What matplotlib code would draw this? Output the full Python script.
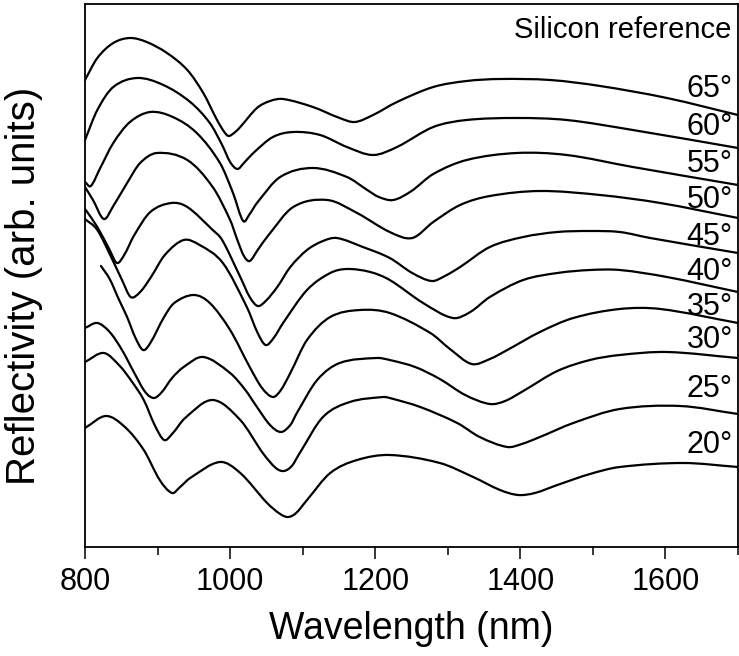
import numpy as np
import matplotlib
matplotlib.use("Agg")
import matplotlib.pyplot as plt
from matplotlib.path import Path
from matplotlib.patches import PathPatch
from matplotlib.ticker import MultipleLocator

# reflectance spectra of the silicon reference, one trace per incidence angle
wl_65 = [800, 817, 839, 862, 885, 913, 941, 963, 982, 992, 998, 1007, 1014, 1037, 1055, 1073,
         1114, 1151, 1172, 1197, 1230, 1280, 1326, 1372, 1441, 1510, 1602, 1700]
r_65 = [4.67, 4.89, 5.04, 5.09, 5.05, 4.94, 4.77, 4.54, 4.27, 4.15, 4.11, 4.15, 4.20, 4.39, 4.46, 4.48,
        4.40, 4.29, 4.25, 4.32, 4.45, 4.60, 4.66, 4.68, 4.67, 4.61, 4.49, 4.32]

wl_60 = [800, 817, 839, 872, 908, 945, 972, 989, 1000, 1010, 1019, 1032, 1059, 1087, 1124, 1161,
         1197, 1230, 1280, 1326, 1395, 1464, 1555, 1700]
r_60 = [4.07, 4.37, 4.60, 4.69, 4.62, 4.45, 4.24, 4.02, 3.85, 3.78, 3.84, 3.94, 4.10, 4.15, 4.12, 4.00,
        3.92, 4.00, 4.20, 4.27, 4.29, 4.27, 4.17, 3.99]

wl_55 = [800, 808, 821, 839, 862, 890, 921, 954, 986, 1004, 1018, 1027, 1037, 1069, 1114, 1161,
         1189, 1205, 1225, 1250, 1280, 1326, 1395, 1464, 1555, 1700]
r_55 = [3.65, 3.61, 3.79, 4.04, 4.25, 4.35, 4.30, 4.14, 3.84, 3.54, 3.26, 3.33, 3.44, 3.70, 3.79, 3.70,
        3.57, 3.50, 3.47, 3.56, 3.73, 3.87, 3.94, 3.92, 3.80, 3.62]

wl_50 = [800, 811, 826, 839, 858, 876, 899, 941, 976, 1000, 1010, 1019, 1027, 1038, 1052, 1087,
         1134, 1175, 1220, 1251, 1280, 1317, 1358, 1427, 1510, 1593, 1700]
r_50 = [3.60, 3.47, 3.28, 3.41, 3.64, 3.84, 3.94, 3.87, 3.60, 3.27, 3.07, 2.91, 2.86, 2.97, 3.11, 3.40,
        3.47, 3.34, 3.15, 3.09, 3.25, 3.42, 3.51, 3.56, 3.52, 3.44, 3.29]

wl_45 = [800, 817, 834, 844, 854, 868, 890, 919, 941, 976, 989, 1014, 1027, 1038, 1049, 1065, 1083,
         1106, 1128, 1147, 1183, 1220, 1251, 1278, 1296, 1317, 1358, 1404, 1451, 1496, 1537, 1579, 1700]
r_45 = [3.38, 3.20, 2.97, 2.84, 2.92, 3.12, 3.35, 3.44, 3.40, 3.17, 3.07, 2.70, 2.50, 2.41, 2.46, 2.60, 2.80,
        2.97, 3.06, 3.09, 3.00, 2.89, 2.74, 2.66, 2.71, 2.80, 3.00, 3.10, 3.15, 3.16, 3.15, 3.09, 2.94]

wl_40 = [800, 817, 836, 851, 863, 876, 891, 910, 936, 958, 990, 1023, 1038, 1049, 1060, 1073, 1106,
         1138, 1161, 1193, 1220, 1266, 1307, 1331, 1358, 1404, 1451, 1496, 1537, 1602, 1700]
r_40 = [3.28, 3.17, 2.90, 2.67, 2.50, 2.55, 2.70, 2.92, 3.07, 3.02, 2.84, 2.40, 2.14, 2.02, 2.09, 2.24, 2.57,
        2.74, 2.78, 2.75, 2.67, 2.44, 2.29, 2.35, 2.50, 2.67, 2.74, 2.77, 2.77, 2.70, 2.55]

wl_35 = [822, 834, 847, 858, 869, 880, 890, 909, 923, 950, 972, 1000, 1027, 1044, 1059, 1070, 1083,
         1106, 1138, 1179, 1220, 1276, 1303, 1333, 1358, 1382, 1427, 1473, 1537, 1593, 1700]
r_35 = [2.81, 2.68, 2.47, 2.30, 2.10, 1.97, 2.04, 2.30, 2.44, 2.52, 2.44, 2.17, 1.80, 1.59, 1.50, 1.57, 1.74,
        2.07, 2.30, 2.37, 2.34, 2.14, 1.98, 1.83, 1.88, 1.97, 2.15, 2.29, 2.38, 2.38, 2.24]

wl_30 = [800, 817, 834, 851, 868, 883, 895, 906, 920, 936, 963, 1000, 1021, 1037, 1055, 1070, 1083,
         1092, 1120, 1151, 1202, 1220, 1255, 1289, 1324, 1358, 1379, 1404, 1451, 1496, 1537, 1602, 1700]
r_30 = [2.19, 2.24, 2.15, 1.97, 1.74, 1.55, 1.49, 1.55, 1.69, 1.80, 1.90, 1.74, 1.57, 1.40, 1.22, 1.15, 1.22,
        1.34, 1.67, 1.84, 1.89, 1.87, 1.80, 1.68, 1.52, 1.43, 1.46, 1.56, 1.76, 1.87, 1.92, 1.95, 1.89]

wl_25 = [800, 826, 848, 865, 881, 896, 909, 920, 938, 976, 1014, 1045, 1063, 1074, 1085, 1096, 1128,
         1165, 1211, 1220, 1262, 1313, 1344, 1382, 1402, 1427, 1473, 1537, 1620, 1700]
r_25 = [1.85, 1.94, 1.81, 1.65, 1.47, 1.22, 1.07, 1.13, 1.29, 1.47, 1.27, 0.94, 0.79, 0.76, 0.81, 0.94, 1.30,
        1.45, 1.50, 1.49, 1.40, 1.24, 1.10, 1.00, 1.03, 1.10, 1.24, 1.38, 1.41, 1.33]

wl_20 = [800, 829, 855, 881, 903, 920, 931, 945, 986, 1014, 1051, 1069, 1080, 1091, 1106, 1138, 1175,
         1220, 1289, 1335, 1372, 1397, 1420, 1451, 1496, 1537, 1624, 1700]
r_20 = [1.19, 1.31, 1.20, 0.97, 0.67, 0.54, 0.60, 0.69, 0.85, 0.74, 0.44, 0.33, 0.30, 0.34, 0.47, 0.74, 0.87,
        0.92, 0.84, 0.70, 0.57, 0.52, 0.54, 0.62, 0.73, 0.80, 0.84, 0.80]

angles = ["65°", "60°", "55°", "50°", "45°", "40°", "35°", "30°", "25°", "20°"]
wls = [wl_65, wl_60, wl_55, wl_50, wl_45, wl_40, wl_35, wl_30, wl_25, wl_20]
refl = [r_65, r_60, r_55, r_50, r_45, r_40, r_35, r_30, r_25, r_20]
# label baselines, in axes fraction
label_y = [0.829, 0.759, 0.691, 0.624, 0.556, 0.492, 0.427, 0.366, 0.276, 0.173]


def spline_path(x, y):
    # smooth line through the points (cubic Hermite segments, as a Bezier path)
    x = np.asarray(x, float)
    y = np.asarray(y, float)
    n = len(x)
    m = np.empty(n)
    m[0] = (y[1] - y[0]) / (x[1] - x[0])
    m[-1] = (y[-1] - y[-2]) / (x[-1] - x[-2])
    m[1:-1] = (y[2:] - y[:-2]) / (x[2:] - x[:-2])
    verts = [(x[0], y[0])]
    codes = [Path.MOVETO]
    for i in range(n - 1):
        dx = (x[i + 1] - x[i]) / 3
        verts += [(x[i] + dx, y[i] + m[i] * dx),
                  (x[i + 1] - dx, y[i + 1] - m[i + 1] * dx),
                  (x[i + 1], y[i + 1])]
        codes += [Path.CURVE4] * 3
    return Path(verts, codes)


plt.rcParams['font.family'] = ['Liberation Sans', 'DejaVu Sans']

fig = plt.figure(figsize=(7.39, 6.56), dpi=100)
ax = fig.add_axes([85 / 739, 1 - 547 / 656, 653 / 739, 543 / 656])

for wl, r in zip(wls, refl):
    ax.add_patch(PathPatch(spline_path(wl, r), fill=False, edgecolor='black', lw=1.6,
                           joinstyle='round', capstyle='round'))

for lab, yy in zip(angles, label_y):
    ax.text(0.992, yy, lab, transform=ax.transAxes, ha='right', va='baseline', fontsize=22)
ax.text(0.990, 0.937, "Silicon reference", transform=ax.transAxes, ha='right', va='baseline', fontsize=21)

ax.set_xlim(800, 1700)
ax.set_ylim(0, 5.43)
ax.xaxis.set_major_locator(MultipleLocator(200))
ax.xaxis.set_minor_locator(MultipleLocator(100))
ax.set_yticks([])
ax.tick_params(axis='x', which='major', length=8.5, width=1.1, direction='out', pad=6, labelsize=22)
ax.tick_params(axis='x', which='minor', length=5.5, width=1.1, direction='out')
for sp in ax.spines.values():
    sp.set_linewidth(1.3)

ax.set_xlabel("Wavelength (nm)", fontsize=27)
ax.xaxis.set_label_coords(0.5, -0.118)
ax.set_ylabel("Reflectivity (arb. units)", fontsize=29)
ax.yaxis.set_label_coords(-0.064, 0.48)

fig.savefig("out.png", dpi=100)
